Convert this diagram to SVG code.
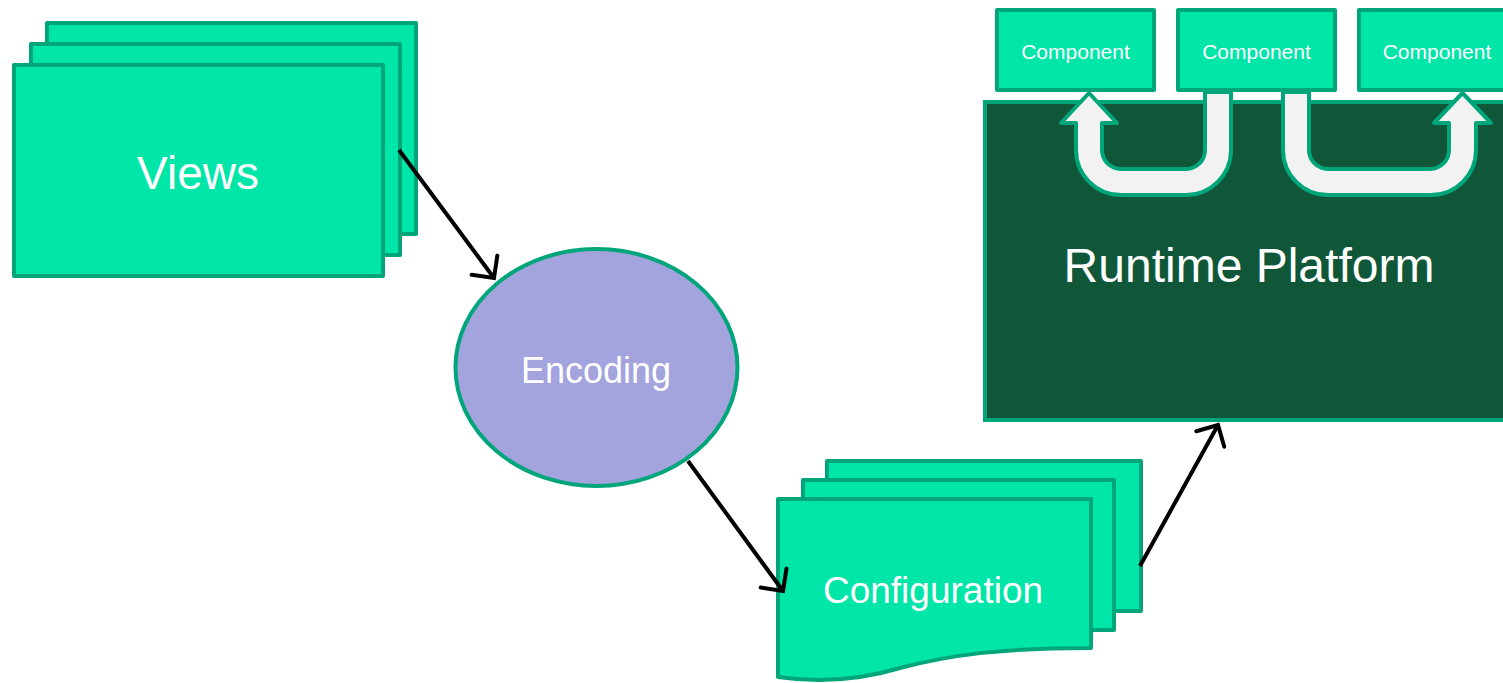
<svg xmlns="http://www.w3.org/2000/svg" width="1503" height="683" viewBox="0 0 1503 683">
  <style>
    .sheet { fill: #00E5A8; stroke: #00A67A; stroke-width: 4; stroke-linejoin: round; }
    .platform { fill: #10573A; stroke: #00A67A; stroke-width: 4; }
    .uturn { fill: #F2F2F2; stroke: #00A67A; stroke-width: 4; stroke-linejoin: round; }
    .ellipse { fill: #A3A3DE; stroke: #00A67A; stroke-width: 4; }
    .label { font-family: "Liberation Sans", Arial, sans-serif; fill: #FFFFFF; text-anchor: middle; }
    .link { fill: none; stroke: #000000; stroke-width: 4; marker-end: url(#chevron); }
  </style>
  <defs>
    <marker id="chevron" markerUnits="userSpaceOnUse" viewBox="-20 -20 24 40" markerWidth="24" markerHeight="40" refX="0" refY="0" orient="auto" overflow="visible">
      <path d="M-16,-16 L0,0 L-16,16" fill="none" stroke="#000000" stroke-width="4" stroke-linecap="round" stroke-linejoin="miter"/>
    </marker>
  </defs>
  <rect width="1503" height="683" fill="#FFFFFF"/>

  <!-- Views: stacked sheets -->
  <g id="views">
    <rect class="sheet" x="47" y="23" width="369" height="211"/>
    <rect class="sheet" x="31" y="44" width="369" height="211"/>
    <rect class="sheet" x="14" y="65" width="369" height="211"/>
    <text class="label" x="198" y="189" font-size="46">Views</text>
  </g>

  <!-- Encoding -->
  <g id="encoding">
    <ellipse class="ellipse" cx="596.5" cy="367.5" rx="141" ry="118.5"/>
    <text class="label" x="596" y="383" font-size="36">Encoding</text>
  </g>

  <!-- Configuration: stacked documents -->
  <g id="configuration">
    <rect class="sheet" x="827" y="461" width="314" height="150"/>
    <rect class="sheet" x="803" y="480" width="311" height="150"/>
    <path class="sheet" d="M778,499 L1091,499 L1091,648 C1000,648 950,655 900,668 C860,680 820,683 778,677 Z"/>
    <text class="label" x="933" y="603" font-size="37">Configuration</text>
  </g>

  <!-- Runtime platform -->
  <g id="runtime-platform">
    <rect class="platform" x="985" y="102" width="540" height="318"/>
    <text class="label" x="1249" y="282" font-size="48">Runtime Platform</text>
  </g>

  <!-- Components -->
  <g id="component-1">
    <rect class="sheet" x="997" y="10" width="157" height="80"/>
    <text class="label" x="1075.5" y="59" font-size="21">Component</text>
  </g>
  <g id="component-2">
    <rect class="sheet" x="1178" y="10" width="157" height="80"/>
    <text class="label" x="1256.5" y="59" font-size="21">Component</text>
  </g>
  <g id="component-3">
    <rect class="sheet" x="1359" y="10" width="160" height="80"/>
    <text class="label" x="1437" y="59" font-size="21">Component</text>
  </g>

  <!-- U-turn arrows between components -->
  <g id="uturn-left">
    <path class="uturn" d="M1205,92 L1231,92 L1231,150 A45,45 0 0 1 1186,195 L1121,195 A45,45 0 0 1 1076,150 L1076,123 L1061,123 L1089,93 L1117,123 L1102,123 L1102,150 A19,19 0 0 0 1121,169 L1186,169 A19,19 0 0 0 1205,150 Z"/>
  </g>
  <g id="uturn-right">
    <path class="uturn" d="M1283,92 L1309,92 L1309,150 A19,19 0 0 0 1328,169 L1430,169 A19,19 0 0 0 1449,150 L1449,123 L1434,123 L1462.5,93 L1491,123 L1476,123 L1476,150 A45,45 0 0 1 1431,195 L1328,195 A45,45 0 0 1 1283,150 Z"/>
  </g>

  <!-- Connectors -->
  <g id="connectors">
    <line class="link" x1="399" y1="150" x2="494" y2="278"/>
    <line class="link" x1="688" y1="461" x2="783" y2="591"/>
    <line class="link" x1="1140" y1="566" x2="1218" y2="425"/>
  </g>
</svg>
